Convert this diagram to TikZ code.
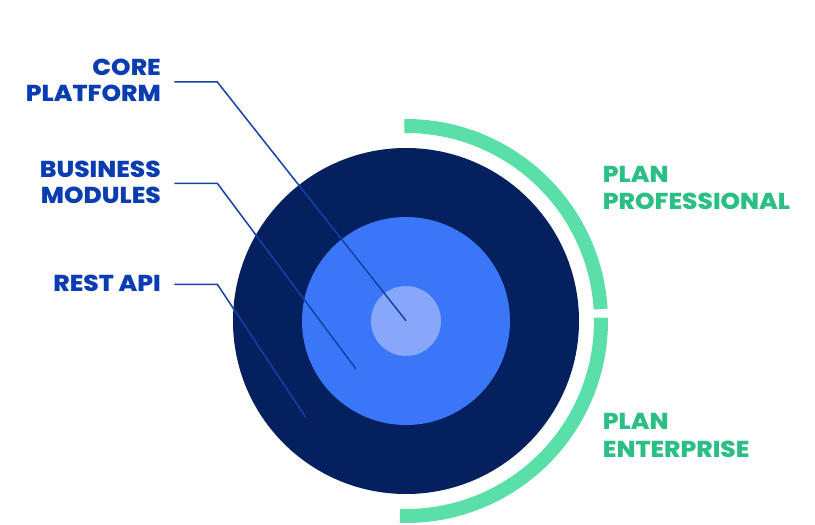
\documentclass[tikz,border=0pt]{standalone}
\usepackage{fontspec}
\usetikzlibrary{calc}
\newfontfamily\lblfont{Poppins ExtraBold}[FakeStretch=1.08]
\definecolor{navy}{HTML}{04205F}
\definecolor{midblue}{HTML}{3A76F8}
\definecolor{lightblue}{HTML}{87A8FA}
\definecolor{txtblue}{HTML}{0B3DB2}
\definecolor{leader}{HTML}{1440A8}
\definecolor{arcgreen}{HTML}{5ADFA8}
\definecolor{txtgreen}{HTML}{2BBF85}
\begin{document}
\begin{tikzpicture}[x=1pt,y=1pt,
  lbl/.style={inner sep=0pt,font=\lblfont\fontsize{23}{26}\selectfont},
  leftlbl/.style={lbl,text=txtblue,anchor=base east},
  rightlbl/.style={lbl,text=txtgreen,anchor=base west},
  leaderline/.style={draw=leader,line width=1.5pt},
  planarc/.style={draw=arcgreen,line width=14pt}]
\useasboundingbox (0,0) rectangle (815,525);
\coordinate (ctr) at (406,204);
% circles
\fill[navy] (ctr) circle (173);
\fill[midblue] (ctr) circle (104);
\fill[lightblue] (ctr) circle (35);
% green arcs
\draw[planarc] ($(ctr)+(90.5:195)$) arc (90.5:3.5:195);
\draw[planarc] ($(ctr)+(1:195)$) arc (1:-91.8:195);
% left labels
\node[leftlbl] (core1) at (161,449) {CORE};
\node[leftlbl] (core2) at (161,423) {PLATFORM};
\node[leftlbl] (bus1) at (161,347.7) {BUSINESS};
\node[leftlbl] (bus2) at (161,321.7) {MODULES};
\node[leftlbl] (rest) at (161,233.3) {REST API};
% right labels
\node[rightlbl] (pro1) at (602.7,342.7) {PLAN};
\node[rightlbl] (pro2) at (602.7,315) {PROFESSIONAL};
\node[rightlbl] (ent1) at (602.7,95) {PLAN};
\node[rightlbl] (ent2) at (602.7,67.3) {ENTERPRISE};
% leader lines
\coordinate (cA) at (174.3,443);
\coordinate (cAk) at (217.3,443);
\coordinate (cAe) at (406,204.3);
\coordinate (cB) at (174.3,341.7);
\coordinate (cBk) at (217.3,341.7);
\coordinate (cBe) at (356,156);
\coordinate (cC) at (174.3,240.7);
\coordinate (cCk) at (217.3,240.7);
\coordinate (cCe) at (305.7,107.7);
\draw[leaderline] (cA) -- (cAk) -- (cAe);
\draw[leaderline] (cB) -- (cBk) -- (cBe);
\draw[leaderline] (cC) -- (cCk) -- (cCe);
\end{tikzpicture}
\end{document}
